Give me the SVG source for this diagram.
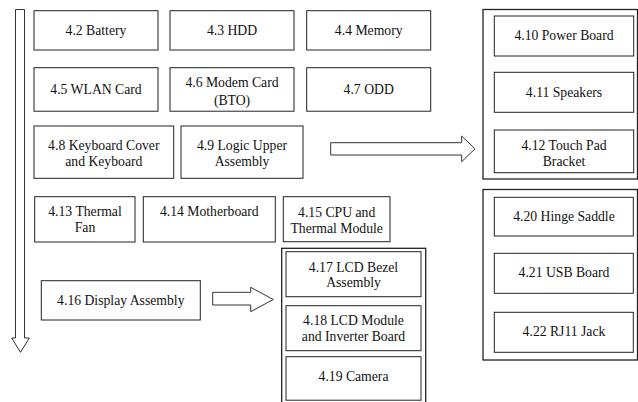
<svg xmlns="http://www.w3.org/2000/svg" width="638" height="402" viewBox="0 0 638 402">
<style>
.b{fill:#fff;stroke:#222;stroke-width:1}
.c{fill:#fff;stroke:#222;stroke-width:1.3}
.a{fill:#fff;stroke:#333;stroke-width:1}
text{font-family:"Liberation Serif","Times New Roman",serif;font-size:13.7px;fill:#111;text-anchor:middle}
</style>
<rect width="638" height="402" fill="#fff"/>
<g id="connectors">
<polygon class="a" points="15.5,9.5 24.5,9.5 24.5,338 29.3,338 20.5,352.3 11.7,338 15.5,338"/>
<polygon class="a" points="330.7,142.7 461.7,142.7 461.7,136 475,148.8 461.7,161.7 461.7,155 330.7,155"/>
<polygon class="a" points="212.7,292.3 250.7,292.3 250.7,287.3 273.3,299.5 250.7,311.7 250.7,305 212.7,305"/>
</g>
<g id="group-right-top"><rect class="c" x="483" y="9.5" width="154.5" height="169.5"/></g>
<g id="group-right-bottom"><rect class="c" x="483" y="189.5" width="154.5" height="170.5"/></g>
<g id="group-lcd"><rect class="c" x="281.7" y="248.3" width="144" height="160"/></g>
<g id="n42"><rect class="b" x="34" y="10.7" width="124" height="39.3"/><text x="96" y="35">4.2 Battery</text></g>
<g id="n43"><rect class="b" x="170" y="10.7" width="124" height="39.3"/><text x="232" y="35">4.3 HDD</text></g>
<g id="n44"><rect class="b" x="306.7" y="10.7" width="124" height="39.3"/><text x="368.7" y="35">4.4 Memory</text></g>
<g id="n45"><rect class="b" x="34" y="67.7" width="124" height="43.5"/><text x="96" y="94">4.5 WLAN Card</text></g>
<g id="n46"><rect class="b" x="170" y="67.7" width="124" height="43.5"/><text x="232" y="87">4.6 Modem Card</text><text x="232" y="104.5">(BTO)</text></g>
<g id="n47"><rect class="b" x="306.7" y="67.7" width="124" height="43.5"/><text x="368.7" y="94">4.7 ODD</text></g>
<g id="n48"><rect class="b" x="34" y="126" width="139.7" height="52.3"/><text x="103.8" y="150">4.8 Keyboard Cover</text><text x="103.8" y="166">and Keyboard</text></g>
<g id="n49"><rect class="b" x="181" y="126" width="122" height="52.3"/><text x="242" y="150">4.9 Logic Upper</text><text x="242" y="166">Assembly</text></g>
<g id="n410"><rect class="b" x="494.3" y="16" width="139.4" height="40"/><text x="564" y="40">4.10 Power Board</text></g>
<g id="n411"><rect class="b" x="494.3" y="72.3" width="139.4" height="40"/><text x="564" y="96.5">4.11 Speakers</text></g>
<g id="n412"><rect class="b" x="494.3" y="130" width="139.4" height="42.7"/><text x="564" y="149.5">4.12 Touch Pad</text><text x="564" y="166">Bracket</text></g>
<g id="n413"><rect class="b" x="34.7" y="196.7" width="100.3" height="45.3"/><text x="85" y="216">4.13 Thermal</text><text x="85" y="232">Fan</text></g>
<g id="n414"><rect class="b" x="143.3" y="196.7" width="132" height="45.3"/><text x="209.3" y="216">4.14 Motherboard</text></g>
<g id="n415"><rect class="b" x="283.3" y="196.7" width="106.7" height="45"/><text x="336.7" y="217">4.15 CPU and</text><text x="336.7" y="233">Thermal Module</text></g>
<g id="n416"><rect class="b" x="41.3" y="280.7" width="159" height="39.3"/><text x="120.8" y="305">4.16 Display Assembly</text></g>
<g id="n417"><rect class="b" x="286" y="251.7" width="135" height="45"/><text x="353.5" y="271.5">4.17 LCD Bezel</text><text x="353.5" y="287">Assembly</text></g>
<g id="n418"><rect class="b" x="286" y="305.7" width="135" height="45"/><text x="353.5" y="325">4.18 LCD Module</text><text x="353.5" y="340.5">and Inverter Board</text></g>
<g id="n419"><rect class="b" x="286" y="356.7" width="135" height="43.5"/><text x="353.5" y="380.5">4.19 Camera</text></g>
<g id="n420"><rect class="b" x="494.3" y="197.3" width="139" height="38.7"/><text x="564" y="221">4.20 Hinge Saddle</text></g>
<g id="n421"><rect class="b" x="494.3" y="253.3" width="139" height="40"/><text x="564" y="276.5">4.21 USB Board</text></g>
<g id="n422"><rect class="b" x="494.3" y="312.3" width="139" height="40"/><text x="564" y="335.5">4.22 RJ11 Jack</text></g>
</svg>
